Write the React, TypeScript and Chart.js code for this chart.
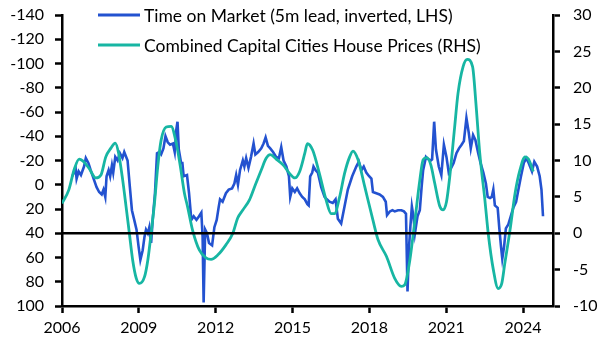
import React, { useEffect, useRef } from 'react';
import { Chart, registerables } from 'chart.js';

Chart.register(...registerables);

// Time on Market (5m lead, inverted, LHS) — decimal years and days
const blueYears = [
  2006.40, 2006.47, 2006.53, 2006.57, 2006.65, 2006.74, 2006.86, 2006.93, 2007.03, 2007.12,
  2007.25, 2007.35, 2007.45, 2007.55, 2007.62, 2007.69, 2007.74, 2007.82, 2007.88, 2007.95,
  2008.00, 2008.08, 2008.17, 2008.26, 2008.36, 2008.43, 2008.56, 2008.65, 2008.73, 2008.82,
  2008.91, 2008.99, 2009.06, 2009.15, 2009.22, 2009.28, 2009.35, 2009.41, 2009.48, 2009.54,
  2009.63, 2009.71, 2009.80, 2009.87, 2009.96, 2010.04, 2010.13, 2010.22, 2010.33, 2010.40,
  2010.46, 2010.51, 2010.56, 2010.65, 2010.70, 2010.75, 2010.88, 2010.96, 2011.05, 2011.14,
  2011.25, 2011.35, 2011.44, 2011.49, 2011.53, 2011.59, 2011.66, 2011.74, 2011.86, 2011.95,
  2012.04, 2012.12, 2012.17, 2012.27, 2012.40, 2012.51, 2012.64, 2012.73, 2012.80, 2012.87,
  2012.95, 2013.06, 2013.12, 2013.19, 2013.28, 2013.38, 2013.48, 2013.55, 2013.66, 2013.78,
  2013.87, 2013.95, 2014.04, 2014.13, 2014.24, 2014.36, 2014.47, 2014.56, 2014.65, 2014.76,
  2014.86, 2014.91, 2014.99, 2015.09, 2015.18, 2015.28, 2015.38, 2015.48, 2015.58, 2015.63,
  2015.69, 2015.77, 2015.82, 2015.90, 2015.99, 2016.12, 2016.25, 2016.34, 2016.44, 2016.57,
  2016.68, 2016.77, 2016.90, 2017.03, 2017.16, 2017.33, 2017.49, 2017.59, 2017.69, 2017.78,
  2017.88, 2017.99, 2018.08, 2018.14, 2018.27, 2018.40, 2018.53, 2018.64, 2018.69, 2018.80,
  2018.90, 2018.99, 2019.12, 2019.25, 2019.35, 2019.43, 2019.49, 2019.55, 2019.60, 2019.66,
  2019.72, 2019.78, 2019.88, 2019.97, 2020.04, 2020.10, 2020.21, 2020.30, 2020.40, 2020.45,
  2020.53, 2020.60, 2020.71, 2020.81, 2020.91, 2021.01, 2021.10, 2021.20, 2021.29, 2021.40,
  2021.50, 2021.60, 2021.69, 2021.79, 2021.88, 2021.96, 2022.05, 2022.14, 2022.25, 2022.34,
  2022.45, 2022.55, 2022.62, 2022.71, 2022.78, 2022.84, 2022.90, 2023.01, 2023.07, 2023.14,
  2023.19, 2023.26, 2023.33, 2023.42, 2023.52, 2023.62, 2023.73, 2023.82, 2023.92, 2024.03,
  2024.13, 2024.22, 2024.35, 2024.44, 2024.55, 2024.65, 2024.72, 2024.78,
];
const blueValues = [
  -7, -10, -14, -5, -11, -8, -15, -22, -18, -12,
  -4, 2, 6, 8, 4, 10, -7, -12, -7, -16,
  -10, -23, -20, -26, -22, -27, -20, 2, 21, 29,
  37, 51, 62, 54, 43, 37, 40, 35, 48, 29,
  7, -26, -27, -25, -30, -40, -35, -33, -34, -27,
  -45, -52, -29, -18, -18, -7, -8, 7, 29, 26,
  29, 26, 23, 43, 97, 37, 40, 48, 50, 35,
  29, 18, 12, 14, 7, 4, 3, -1, -8, 0,
  -12, -20, -15, -22, -14, -23, -34, -25, -27, -30,
  -34, -39, -32, -30, -27, -23, -22, -31, -20, -15,
  -7, 10, 3, 6, 3, 7, 10, 12, 16, 17,
  -7, -10, -15, -12, -10, 2, 10, 12, 14, 15,
  12, 28, 32, 18, 4, -7, -15, -19, -12, -15,
  -10, -7, -5, 6, 7, 8, 10, 14, 25, 22,
  21, 22, 21, 21, 22, 24, 88, 51, 35, 18,
  26, 40, 26, 21, 2, -12, -23, -21, -20, -21,
  -52, -29, -15, -8, -33, -23, -10, -14, -18, -26,
  -30, -33, -36, -55, -43, -30, -41, -37, -26, -18,
  -10, -1, 10, 11, 10, 4, 17, 19, 35, 51,
  61, 51, 36, 33, 26, 19, 14, 4, -7, -18,
  -22, -18, -11, -19, -15, -7, 4, 26,
];

// Combined Capital Cities House Prices (RHS), % y/y
const greenYears = [
  2006.00, 2006.27, 2006.47, 2006.67, 2006.86, 2007.06, 2007.32, 2007.52, 2007.71, 2007.91,
  2008.08, 2008.21, 2008.37, 2008.50, 2008.63, 2008.76, 2008.90, 2009.02, 2009.22, 2009.35,
  2009.48, 2009.61, 2009.74, 2009.87, 2010.07, 2010.26, 2010.46, 2010.62, 2010.78, 2010.90,
  2011.10, 2011.36, 2011.62, 2011.82, 2012.08, 2012.40, 2012.67, 2012.86, 2013.06, 2013.32,
  2013.52, 2013.78, 2013.97, 2014.13, 2014.36, 2014.63, 2014.89, 2015.09, 2015.28, 2015.48,
  2015.58, 2015.79, 2016.05, 2016.31, 2016.51, 2016.64, 2016.84, 2017.03, 2017.23, 2017.36,
  2017.56, 2017.82, 2018.14, 2018.34, 2018.67, 2018.99, 2019.25, 2019.38, 2019.58, 2019.78,
  2019.97, 2020.10, 2020.24, 2020.40, 2020.55, 2020.75, 2020.88, 2021.01, 2021.14, 2021.33,
  2021.46, 2021.66, 2021.82, 2022.03, 2022.16, 2022.31, 2022.51, 2022.64, 2022.84, 2023.03,
  2023.17, 2023.29, 2023.49, 2023.69, 2023.88, 2024.08, 2024.21, 2024.40,
];
const greenValues = [
  4.1, 6.0, 8.7, 10.2, 9.8, 8.9, 7.6, 8.0, 10.5, 11.7,
  12.4, 11.0, 7.3, 3.7, 0.0, -3.7, -6.2, -6.9, -6.0, -3.7,
  0.0, 4.1, 9.2, 12.8, 14.6, 14.7, 12.4, 9.2, 5.5, 3.7,
  0.4, -2.3, -3.4, -3.6, -3.0, -1.6, 0.0, 2.1, 3.2, 4.6,
  6.4, 8.7, 10.3, 10.8, 10.2, 9.4, 8.2, 7.6, 8.5, 11.0,
  12.3, 11.4, 8.2, 4.6, 2.7, 2.7, 5.0, 8.2, 10.5, 11.3,
  10.1, 6.4, 1.8, -0.9, -3.2, -6.2, -7.3, -7.1, -3.7, 1.8,
  7.3, 10.1, 10.4, 9.4, 6.9, 3.7, 3.2, 4.3, 7.8, 14.6,
  19.2, 22.9, 23.9, 22.9, 17.9, 11.0, 4.6, 0.0, -5.0, -7.6,
  -6.9, -4.1, 0.4, 5.5, 8.7, 10.5, 10.2, 8.5,
];

const seriesLabels = [
  'Time on Market (5m lead, inverted, LHS)',
  'Combined Capital Cities House Prices (RHS)',
];
const seriesColors = ['#2352D0', '#17B6A3'];

const xTickYears = [2006, 2009, 2012, 2015, 2018, 2021, 2024];
const xMin = 2006;
const xMax = 2025.17;
const leftMin = -140;
const leftMax = 100;
const leftStep = 20;
const rightMin = -10;
const rightMax = 30;
const rightStep = 5;

const FONT = 'Lato, "Open Sans", sans-serif';

const legendPlugin = {
  id: 'boxLegend',
  afterDraw(chart: any) {
    const { ctx, chartArea } = chart;
    ctx.save();
    ctx.font = `17.5px ${FONT}`;
    ctx.textBaseline = 'middle';
    ctx.textAlign = 'left';
    chart.data.datasets.forEach((ds: any, i: number) => {
      const y = chartArea.top + i * 30;
      const x0 = chartArea.left + 36;
      ctx.strokeStyle = ds.borderColor;
      ctx.lineWidth = 3;
      ctx.beginPath();
      ctx.moveTo(x0, y);
      ctx.lineTo(x0 + 42, y);
      ctx.stroke();
      ctx.fillStyle = '#000';
      ctx.fillText(ds.label, x0 + 46, y + 1);
    });
    ctx.restore();
  },
};

const zeroLinePlugin = {
  id: 'zeroLine',
  afterDatasetsDraw(chart: any) {
    const { ctx, chartArea } = chart;
    const y = chart.scales.yRight.getPixelForValue(0);
    ctx.save();
    ctx.strokeStyle = '#000';
    ctx.lineWidth = 2.5;
    ctx.beginPath();
    ctx.moveTo(chartArea.left, y);
    ctx.lineTo(chartArea.right, y);
    ctx.stroke();
    ctx.restore();
  },
};

export default function App() {
  const ref = useRef<HTMLCanvasElement | null>(null);

  useEffect(() => {
    if (!ref.current) return;
    const blue = blueYears.map((x, i) => ({ x, y: blueValues[i] }));
    const green = greenYears.map((x, i) => ({ x, y: greenValues[i] }));
    const axisCommon = {
      border: { display: true, color: '#000', width: 2.5 },
      grid: {
        display: true,
        drawOnChartArea: false,
        drawTicks: true,
        tickLength: 7,
        tickColor: '#000',
        tickWidth: 2.5,
      },
    };
    const fitY = (w: number) => (s: any) => {
      s.width = w;
      s.paddingTop = 0;
      s.paddingBottom = 0;
    };
    const chart = new Chart(ref.current, {
      type: 'line',
      data: {
        datasets: [
          {
            label: seriesLabels[0],
            data: blue,
            yAxisID: 'yLeft',
            borderColor: seriesColors[0],
            backgroundColor: seriesColors[0],
            borderWidth: 2.6,
            pointRadius: 0,
            tension: 0,
            order: 1,
          },
          {
            label: seriesLabels[1],
            data: green,
            yAxisID: 'yRight',
            borderColor: seriesColors[1],
            backgroundColor: seriesColors[1],
            borderWidth: 2.8,
            pointRadius: 0,
            cubicInterpolationMode: 'monotone',
            order: 0,
          },
        ],
      },
      options: {
        animation: false,
        responsive: true,
        maintainAspectRatio: false,
        layout: { padding: { top: 15, left: 0, right: 0, bottom: 0 } },
        plugins: {
          legend: { display: false },
          tooltip: { enabled: false },
        },
        scales: {
          x: {
            type: 'linear',
            min: xMin,
            max: xMax,
            ...axisCommon,
            afterBuildTicks: (s: any) => {
              s.ticks = xTickYears.map((v) => ({ value: v }));
            },
            ticks: {
              autoSkip: false,
              maxRotation: 0,
              padding: 5,
              color: '#000',
              font: { family: FONT, size: 16 },
              callback: (v: any) => String(v),
            },
            afterFit: (s: any) => {
              s.height = 47;
            },
          },
          yLeft: {
            type: 'linear',
            position: 'left',
            reverse: true,
            min: leftMin,
            max: leftMax,
            ...axisCommon,
            ticks: {
              stepSize: leftStep,
              padding: 11,
              color: '#000',
              font: { family: FONT, size: 16 },
            },
            afterFit: fitY(62),
          },
          yRight: {
            type: 'linear',
            position: 'right',
            min: rightMin,
            max: rightMax,
            ...axisCommon,
            ticks: {
              stepSize: rightStep,
              padding: 13,
              color: '#000',
              font: { family: FONT, size: 16 },
            },
            afterFit: fitY(56),
          },
        },
      },
      plugins: [zeroLinePlugin, legendPlugin],
    } as any);
    return () => chart.destroy();
  }, []);

  return (
    <div style={{ position: 'fixed', left: 0, top: 0, width: 609, height: 353, background: '#fff' }}>
      <canvas ref={ref} />
    </div>
  );
}
